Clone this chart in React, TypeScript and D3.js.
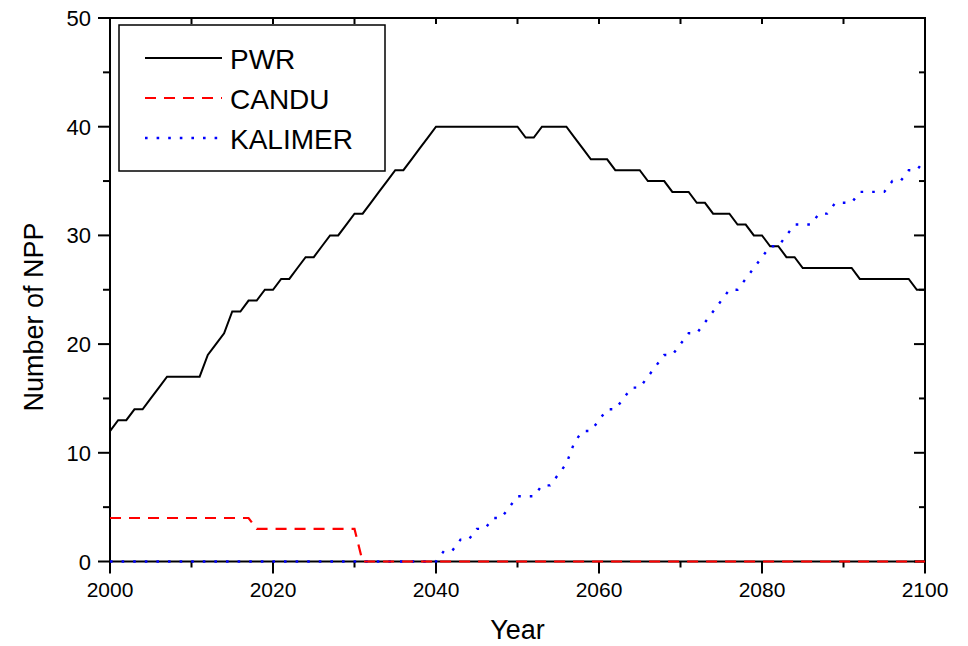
import { useEffect, useRef } from 'react'
import * as d3 from 'd3'

// yearly values, 2000..2100
const years = d3.range(2000, 2101)

const pwr = [
  12, 13, 13, 14, 14, 15, 16, 17, 17, 17, // 2000-2009
  17, 17, 19, 20, 21, 23, 23, 24, 24, 25, // 2010-2019
  25, 26, 26, 27, 28, 28, 29, 30, 30, 31, // 2020-2029
  32, 32, 33, 34, 35, 36, 36, 37, 38, 39, // 2030-2039
  40, 40, 40, 40, 40, 40, 40, 40, 40, 40, // 2040-2049
  40, 39, 39, 40, 40, 40, 40, 39, 38, 37, // 2050-2059
  37, 37, 36, 36, 36, 36, 35, 35, 35, 34, // 2060-2069
  34, 34, 33, 33, 32, 32, 32, 31, 31, 30, // 2070-2079
  30, 29, 29, 28, 28, 27, 27, 27, 27, 27, // 2080-2089
  27, 27, 26, 26, 26, 26, 26, 26, 26, 25, // 2090-2099
  25,
]

const candu = [
  4, 4, 4, 4, 4, 4, 4, 4, 4, 4,
  4, 4, 4, 4, 4, 4, 4, 4, 3, 3,
  3, 3, 3, 3, 3, 3, 3, 3, 3, 3,
  3, 0, 0, 0, 0, 0, 0, 0, 0, 0,
  0, 0, 0, 0, 0, 0, 0, 0, 0, 0,
  0, 0, 0, 0, 0, 0, 0, 0, 0, 0,
  0, 0, 0, 0, 0, 0, 0, 0, 0, 0,
  0, 0, 0, 0, 0, 0, 0, 0, 0, 0,
  0, 0, 0, 0, 0, 0, 0, 0, 0, 0,
  0, 0, 0, 0, 0, 0, 0, 0, 0, 0,
  0,
]

const kalimer = [
  0, 0, 0, 0, 0, 0, 0, 0, 0, 0,
  0, 0, 0, 0, 0, 0, 0, 0, 0, 0,
  0, 0, 0, 0, 0, 0, 0, 0, 0, 0,
  0, 0, 0, 0, 0, 0, 0, 0, 0, 0,
  0, 1, 1, 2, 2, 3, 3, 4, 4, 5, // 2040-2049
  6, 6, 6, 7, 7, 8, 9, 11, 12, 12, // 2050-2059
  13, 14, 14, 15, 16, 16, 17, 18, 19, 19, // 2060-2069
  20, 21, 21, 22, 23, 24, 25, 25, 26, 27, // 2070-2079
  28, 29, 29, 30, 31, 31, 31, 32, 32, 33, // 2080-2089
  33, 33, 34, 34, 34, 34, 35, 35, 36, 36, // 2090-2099
  37,
]

const xTicks = [2000, 2020, 2040, 2060, 2080, 2100]
const yTicks = [0, 10, 20, 30, 40, 50]

const series = [
  { name: 'PWR', values: pwr, color: '#000000', dash: null as string | null, width: 2 },
  { name: 'CANDU', values: candu, color: '#ff0000', dash: '11,8', width: 2.2 },
  { name: 'KALIMER', values: kalimer, color: '#0000ff', dash: '2.6,9', width: 2.4 },
]

const FONT = '"Liberation Sans", Arial, sans-serif'

export default function App() {
  const svgRef = useRef<SVGSVGElement | null>(null)

  useEffect(() => {
    const svgEl = svgRef.current
    if (!svgEl) return
    const svg = d3.select(svgEl)
    svg.selectAll('*').remove()

    const left = 110
    const right = 925
    const top = 18
    const bottom = 561.5

    const x = d3.scaleLinear().domain([2000, 2100]).range([left, right])
    const y = d3.scaleLinear().domain([0, 50]).range([bottom, top])

    svg.append('rect').attr('width', 968).attr('height', 646).attr('fill', '#fff')

    // ticks
    const tk = svg.append('g').attr('stroke', '#000').attr('stroke-width', 2)
    d3.range(2000, 2101, 10).forEach((yr) => {
      const major = yr % 20 === 0
      tk.append('line')
        .attr('x1', x(yr)).attr('x2', x(yr))
        .attr('y1', bottom).attr('y2', bottom + (major ? 12 : 6))
      tk.append('line')
        .attr('x1', x(yr)).attr('x2', x(yr))
        .attr('y1', top).attr('y2', top + 6)
    })
    d3.range(0, 51, 5).forEach((v) => {
      const major = v % 10 === 0
      tk.append('line')
        .attr('x1', left).attr('x2', left - (major ? 12 : 7))
        .attr('y1', y(v)).attr('y2', y(v))
      tk.append('line')
        .attr('x1', right).attr('x2', right - (major ? 11 : 6))
        .attr('y1', y(v)).attr('y2', y(v))
    })

    // frame
    svg.append('rect')
      .attr('x', left).attr('y', top)
      .attr('width', right - left).attr('height', bottom - top)
      .attr('fill', 'none').attr('stroke', '#000').attr('stroke-width', 2)

    // tick labels
    svg.append('g').selectAll('text').data(xTicks).enter().append('text')
      .attr('x', (d) => x(d)).attr('y', 597)
      .attr('text-anchor', 'middle')
      .attr('font-family', FONT).attr('font-size', 21)
      .text((d) => d)
    svg.append('g').selectAll('text').data(yTicks).enter().append('text')
      .attr('x', 91).attr('y', (d) => y(d) + 8)
      .attr('text-anchor', 'end')
      .attr('font-family', FONT).attr('font-size', 22)
      .text((d) => d)

    // axis titles
    svg.append('text')
      .attr('x', (left + right) / 2).attr('y', 639)
      .attr('text-anchor', 'middle')
      .attr('font-family', FONT).attr('font-size', 27)
      .text('Year')
    svg.append('text')
      .attr('transform', 'translate(43,317) rotate(-90)')
      .attr('text-anchor', 'middle')
      .attr('font-family', FONT).attr('font-size', 27)
      .text('Number of NPP')

    // lines: PWR, KALIMER, then CANDU on top
    const line = d3.line<number>()
      .x((_, i) => x(years[i]))
      .y((d) => y(d))
    const order = [series[0], series[2], series[1]]
    order.forEach((s) => {
      svg.append('path')
        .attr('d', line(s.values) ?? '')
        .attr('fill', 'none')
        .attr('stroke', s.color)
        .attr('stroke-width', s.width)
        .attr('stroke-dasharray', s.dash)
        .attr('stroke-linejoin', 'miter')
    })

    // legend
    const lg = svg.append('g')
    lg.append('rect')
      .attr('x', 119).attr('y', 25).attr('width', 266).attr('height', 146)
      .attr('fill', '#fff').attr('stroke', '#000').attr('stroke-width', 1.5)
    series.forEach((s, i) => {
      const ly = 58 + i * 40
      lg.append('line')
        .attr('x1', 145).attr('x2', 222)
        .attr('y1', ly).attr('y2', ly)
        .attr('stroke', s.color).attr('stroke-width', s.width)
        .attr('stroke-dasharray', s.dash)
      lg.append('text')
        .attr('x', 230).attr('y', ly + 11)
        .attr('font-family', FONT).attr('font-size', 28)
        .text(s.name)
    })
  }, [])

  return (
    <svg
      ref={svgRef}
      width={968}
      height={646}
      style={{ position: 'absolute', left: 0, top: 0 }}
    />
  )
}
